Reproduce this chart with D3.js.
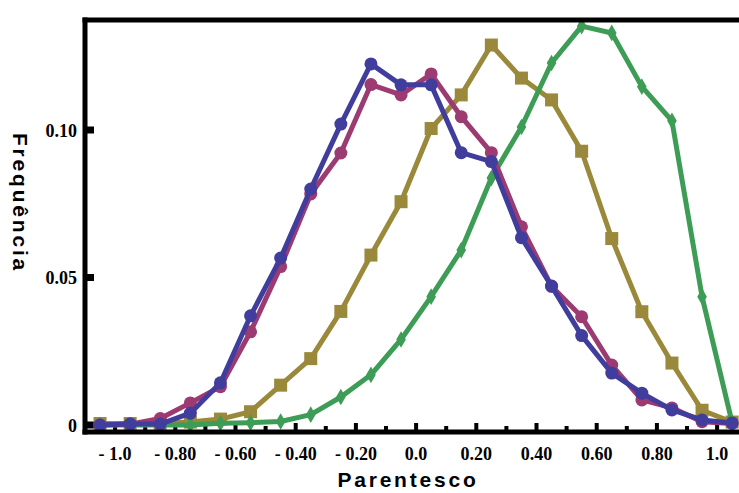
<!DOCTYPE html>
<html>
<head>
<meta charset="utf-8">
<script src="https://cdn.jsdelivr.net/npm/d3@7"></script>
<style>
  body { margin: 0; background: #fff; }
  svg { display: block; }
</style>
</head>
<body>
<svg id="chart"></svg>
<script>
// bin centres of the relatedness histogram
const bins = [-1.05, -0.95, -0.85, -0.75, -0.65, -0.55, -0.45, -0.35, -0.25, -0.15, -0.05,
  0.05, 0.15, 0.25, 0.35, 0.45, 0.55, 0.65, 0.75, 0.85, 0.95, 1.05];

const olive = [0.0005, 0.0005, 0.0005, 0.001, 0.002, 0.0045, 0.0135, 0.0225, 0.0385, 0.0576, 0.0757,
  0.1005, 0.1119, 0.1288, 0.1176, 0.1102, 0.0928, 0.0632, 0.0384, 0.021, 0.005, 0.001];
const green = [0, 0, 0, 0, 0.0006, 0.0008, 0.0012, 0.0035, 0.0095, 0.017, 0.029,
  0.0435, 0.0593, 0.0837, 0.101, 0.1227, 0.1352, 0.1329, 0.1147, 0.1031, 0.0435, 0.0007];
const magenta = [0, 0.0003, 0.0022, 0.0075, 0.013, 0.0316, 0.0537, 0.0783, 0.0922, 0.1154, 0.1119,
  0.119, 0.1045, 0.0923, 0.0672, 0.047, 0.0367, 0.0203, 0.0085, 0.0058, 0.0011, 0.0005];
const blue = [0, 0.0003, 0.0003, 0.004, 0.0143, 0.037, 0.0566, 0.08, 0.102, 0.1224, 0.1153,
  0.1153, 0.0923, 0.0893, 0.0635, 0.0471, 0.0303, 0.0176, 0.0108, 0.0051, 0.0017, 0.0007];

const xTicks = [-1.0, -0.8, -0.6, -0.4, -0.2, 0.0, 0.2, 0.4, 0.6, 0.8, 1.0];
const xLabels = ["- 1.0", "- 0.80", "- 0.60", "- 0.40", "- 0.20", "0.0", "0.20", "0.40", "0.60", "0.80", "1.0"];
const yTicks = [0, 0.05, 0.10];
const yLabels = ["0", "0.05", "0.10"];

const series = [
  { values: olive, color: "#9a893a", shape: "square" },
  { values: green, color: "#3d9c55", shape: "diamond" },
  { values: magenta, color: "#9c3a72", shape: "circle" },
  { values: blue, color: "#413d9d", shape: "circle" },
];

const width = 739, height = 493;
const svg = d3.select("#chart").attr("width", width).attr("height", height);

const x = d3.scaleLinear().domain([-1.1, 1.1]).range([85, 85 + 2.2 * 301]);
const y = d3.scaleLinear().domain([0, 0.1]).range([425, 130]);

const frameTop = 20, frameBottom = 432;

// x ticks every 0.1, taller on the labelled ones
const minor = d3.range(-10, 11).map((d) => d / 10);
svg.append("g")
  .selectAll("rect")
  .data(minor)
  .enter()
  .append("rect")
  .attr("x", (d) => x(d) - 2)
  .attr("y", (d) => (Math.round(d * 10) % 2 === 0 ? frameBottom - 9 : frameBottom - 6))
  .attr("width", 4)
  .attr("height", (d) => (Math.round(d * 10) % 2 === 0 ? 9 : 6))
  .attr("fill", "#000");

svg.append("g")
  .selectAll("rect")
  .data(yTicks)
  .enter()
  .append("rect")
  .attr("x", 85)
  .attr("y", (d) => y(d) - 3.5)
  .attr("width", 9)
  .attr("height", 7)
  .attr("fill", "#000");

const line = d3.line().x((d, i) => x(bins[i])).y((d) => y(d));

series.forEach((s) => {
  const g = svg.append("g");
  g.append("path")
    .attr("d", line(s.values))
    .attr("fill", "none")
    .attr("stroke", s.color)
    .attr("stroke-width", 5)
    .attr("stroke-linejoin", "round");

  if (s.shape === "circle") {
    g.selectAll("circle")
      .data(s.values)
      .enter()
      .append("circle")
      .attr("cx", (d, i) => x(bins[i]))
      .attr("cy", (d) => y(d))
      .attr("r", 6.5)
      .attr("fill", s.color);
  } else if (s.shape === "square") {
    g.selectAll("rect")
      .data(s.values)
      .enter()
      .append("rect")
      .attr("x", (d, i) => x(bins[i]) - 6.5)
      .attr("y", (d) => y(d) - 6.5)
      .attr("width", 13)
      .attr("height", 13)
      .attr("fill", s.color);
  } else {
    g.selectAll("path.pt")
      .data(s.values)
      .enter()
      .append("path")
      .attr("class", "pt")
      .attr("d", d3.symbol(d3.symbolDiamond, 80))
      .attr("transform", (d, i) => `translate(${x(bins[i])},${y(d)})`)
      .attr("fill", s.color);
  }
});

// frame: top, left axis, bottom axis
svg.append("line").attr("x1", 82.5).attr("x2", width).attr("y1", frameTop).attr("y2", frameTop)
  .attr("stroke", "#000").attr("stroke-width", 5);
svg.append("line").attr("x1", 85).attr("x2", 85).attr("y1", frameTop - 2.5).attr("y2", frameBottom + 2.5)
  .attr("stroke", "#000").attr("stroke-width", 5);
svg.append("line").attr("x1", 82.5).attr("x2", width).attr("y1", frameBottom).attr("y2", frameBottom)
  .attr("stroke", "#000").attr("stroke-width", 5);

svg.append("g")
  .selectAll("text")
  .data(xTicks)
  .enter()
  .append("text")
  .attr("x", (d) => x(d))
  .attr("y", 460)
  .attr("text-anchor", "middle")
  .style("font-family", "'Liberation Serif', serif")
  .style("font-weight", "bold")
  .style("font-size", "18px")
  .text((d, i) => xLabels[i]);

svg.append("g")
  .selectAll("text")
  .data(yTicks)
  .enter()
  .append("text")
  .attr("x", 77)
  .attr("y", (d) => y(d) + 6.5)
  .attr("text-anchor", "end")
  .style("font-family", "'Liberation Serif', serif")
  .style("font-weight", "bold")
  .style("font-size", "18px")
  .text((d, i) => yLabels[i]);

svg.append("text")
  .attr("x", 408)
  .attr("y", 487)
  .attr("text-anchor", "middle")
  .style("font-family", "'Liberation Sans', Arial, sans-serif")
  .style("font-weight", "bold")
  .style("font-size", "21px")
  .style("letter-spacing", "2.8px")
  .text("Parentesco");

svg.append("text")
  .attr("transform", "translate(13,203) rotate(90)")
  .attr("text-anchor", "middle")
  .style("font-family", "'Liberation Sans', Arial, sans-serif")
  .style("font-weight", "bold")
  .style("font-size", "21px")
  .style("letter-spacing", "2.8px")
  .text("Frequência");
</script>
</body>
</html>
